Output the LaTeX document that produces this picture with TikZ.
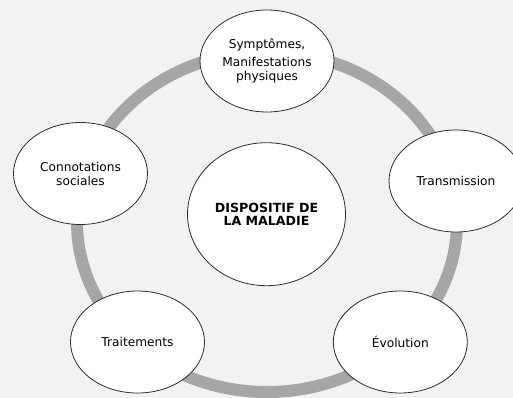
\documentclass[tikz,border=0pt]{standalone}
\usepackage{fontspec}
\setmainfont{DejaVu Sans}
\usetikzlibrary{shapes.geometric}
\definecolor{bgcol}{HTML}{F2F2F2}
\definecolor{ringcol}{HTML}{A6A6A6}
\definecolor{edgecol}{HTML}{2B2B2B}
\tikzset{
  topic/.style={ellipse, draw=edgecol, line width=0.8pt, fill=white, inner sep=0pt,
    minimum width=134, minimum height=102, align=center,
    font=\fontsize{12.2}{14}\selectfont},
  hub/.style={ellipse, draw=edgecol, line width=0.8pt, fill=white, inner sep=0pt,
    minimum width=158, minimum height=143, align=center,
    font=\bfseries\fontsize{12.6}{13.5}\selectfont},
  ring/.style={draw=ringcol, line width=12}
}
\begin{document}
\begin{tikzpicture}[x=1pt,y=-1pt]
\fill[bgcol] (0,0) rectangle (513,398);
\useasboundingbox (0,0) rectangle (513,398);
\begin{scope}
\clip (0,0) rectangle (513,398);
\draw[ring] (267,222) ellipse [x radius=190, y radius=170];
\node[topic] (sym) at (267,61) {Symptômes,\\[4pt]Manifestations\\physiques};
\node[topic] (tra) at (456,181) {Transmission};
\node[topic] (con) at (80.5,173.5) {Connotations\\sociales};
\node[topic] (trt) at (137.5,342) {Traitements};
\node[topic] (evo) at (400.3,342) {Évolution};
\node[hub] (dis) at (266.5,214.2) {DISPOSITIF DE\\LA MALADIE};
\end{scope}
\end{tikzpicture}
\end{document}
